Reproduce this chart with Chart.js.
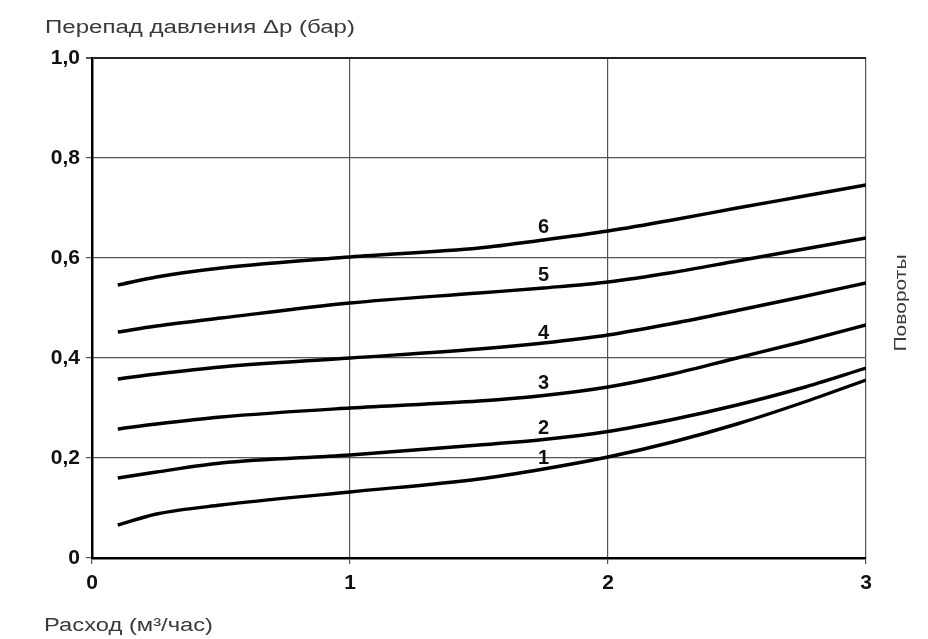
<!DOCTYPE html>
<html>
<head>
<meta charset="utf-8">
<script src="https://cdn.jsdelivr.net/npm/chart.js@4"></script>
<style>
  html, body { margin: 0; padding: 0; background: #fff; }
  #wrap { width: 928px; height: 639px; }
</style>
</head>
<body>
<div id="wrap"><canvas id="pressureChart" width="928" height="639"></canvas></div>
<script>
const flow = [0.1, 0.25, 0.5, 1, 1.5, 1.75, 2, 2.25, 2.5, 2.75, 3];

const turns1 = [0.066, 0.088, 0.106, 0.132, 0.158, 0.178, 0.202, 0.232, 0.268, 0.31, 0.356];
const turns2 = [0.16, 0.172, 0.19, 0.206, 0.226, 0.237, 0.253, 0.277, 0.306, 0.34, 0.38];
const turns3 = [0.258, 0.268, 0.282, 0.30, 0.314, 0.325, 0.342, 0.368, 0.40, 0.432, 0.466];
const turns4 = [0.358, 0.368, 0.382, 0.40, 0.418, 0.43, 0.446, 0.469, 0.495, 0.522, 0.55];
const turns5 = [0.452, 0.464, 0.48, 0.51, 0.53, 0.54, 0.552, 0.571, 0.594, 0.617, 0.64];
const turns6 = [0.546, 0.562, 0.58, 0.602, 0.62, 0.636, 0.654, 0.676, 0.70, 0.723, 0.746];

const curveNames = ['1', '2', '3', '4', '5', '6'];
const labelX = 1.75;
const labelY = [0.2, 0.26, 0.35, 0.45, 0.566, 0.662];

const yTicks = [0, 0.2, 0.4, 0.6, 0.8, 1.0];
const xTicks = [0, 1, 2, 3];

const allSeries = [turns1, turns2, turns3, turns4, turns5, turns6];

const toPoints = (vals) => flow.map((x, i) => ({ x: x, y: vals[i] }));

// текст, растянутый до нужной ширины (в оригинале шрифт шире)
function fitText(ctx, text, x, y, size, width, align) {
    ctx.font = size + 'px "Liberation Sans", Arial, sans-serif';
    const k = width / ctx.measureText(text).width;
    ctx.save();
    ctx.translate(x, y);
    ctx.scale(k, 1);
    ctx.textAlign = align;
    ctx.fillText(text, 0, 0);
    ctx.restore();
}

const annotations = {
    id: 'annotations',
    afterDraw(chart) {
        const ctx = chart.ctx;
        const xs = chart.scales.x;
        const ys = chart.scales.y;
        ctx.save();
        ctx.fillStyle = '#111';
        ctx.font = 'bold 20px "Liberation Sans", Arial, sans-serif';
        ctx.textAlign = 'center';
        ctx.textBaseline = 'middle';
        curveNames.forEach((name, i) => {
            ctx.fillText(name, xs.getPixelForValue(labelX), ys.getPixelForValue(labelY[i]));
        });

        ctx.fillStyle = '#3a3a3a';
        fitText(ctx, 'Перепад давления Δp (бар)', 45, 28, 18, 310, 'left');
        fitText(ctx, 'Расход (м³/час)', 44, 626, 18, 169, 'left');

        ctx.translate(901, 303);
        ctx.rotate(-Math.PI / 2);
        fitText(ctx, 'Повороты', 0, 0, 17, 97, 'center');
        ctx.restore();
    }
};

new Chart(document.getElementById('pressureChart'), {
    type: 'line',
    data: {
        datasets: allSeries.map((vals, i) => ({
            label: curveNames[i],
            data: toPoints(vals),
            borderColor: '#000',
            borderWidth: 3.4,
            pointRadius: 0,
            cubicInterpolationMode: 'monotone',
            fill: false
        }))
    },
    options: {
        responsive: false,
        animation: false,
        events: [],
        layout: {
            padding: { top: 58, right: 62, bottom: 0, left: 0 }
        },
        plugins: {
            legend: false,
            tooltip: { enabled: false },
            title: { display: false }
        },
        scales: {
            x: {
                type: 'linear',
                min: 0,
                max: 3,
                afterBuildTicks(scale) {
                    scale.ticks = xTicks.map(v => ({ value: v }));
                },
                afterFit(scale) {
                    scale.height = 81;
                },
                border: { color: '#000', width: 2.5 },
                grid: {
                    color: '#555',
                    lineWidth: 1.2,
                    tickLength: 6,
                    tickColor: '#555'
                },
                ticks: {
                    color: '#111',
                    padding: 7,
                    maxRotation: 0,
                    font: { family: '"Liberation Sans", Arial, sans-serif', size: 21, weight: 'bold' },
                    callback: (v) => String(v)
                }
            },
            y: {
                min: 0,
                max: 1,
                afterBuildTicks(scale) {
                    scale.ticks = yTicks.map(v => ({ value: v }));
                },
                afterFit(scale) {
                    scale.width = 92;
                },
                border: { color: '#000', width: 2.5 },
                grid: {
                    color: (c) => c.tick && c.tick.value === 1 ? '#222' : '#555',
                    lineWidth: (c) => c.tick && c.tick.value === 1 ? 2 : 1.2,
                    tickLength: 6,
                    tickColor: '#555'
                },
                ticks: {
                    color: '#111',
                    padding: 6,
                    font: { family: '"Liberation Sans", Arial, sans-serif', size: 21, weight: 'bold' },
                    callback: (v) => v === 0 ? '0' : v.toFixed(1).replace('.', ',')
                }
            }
        }
    },
    plugins: [annotations]
});
</script>
</body>
</html>
